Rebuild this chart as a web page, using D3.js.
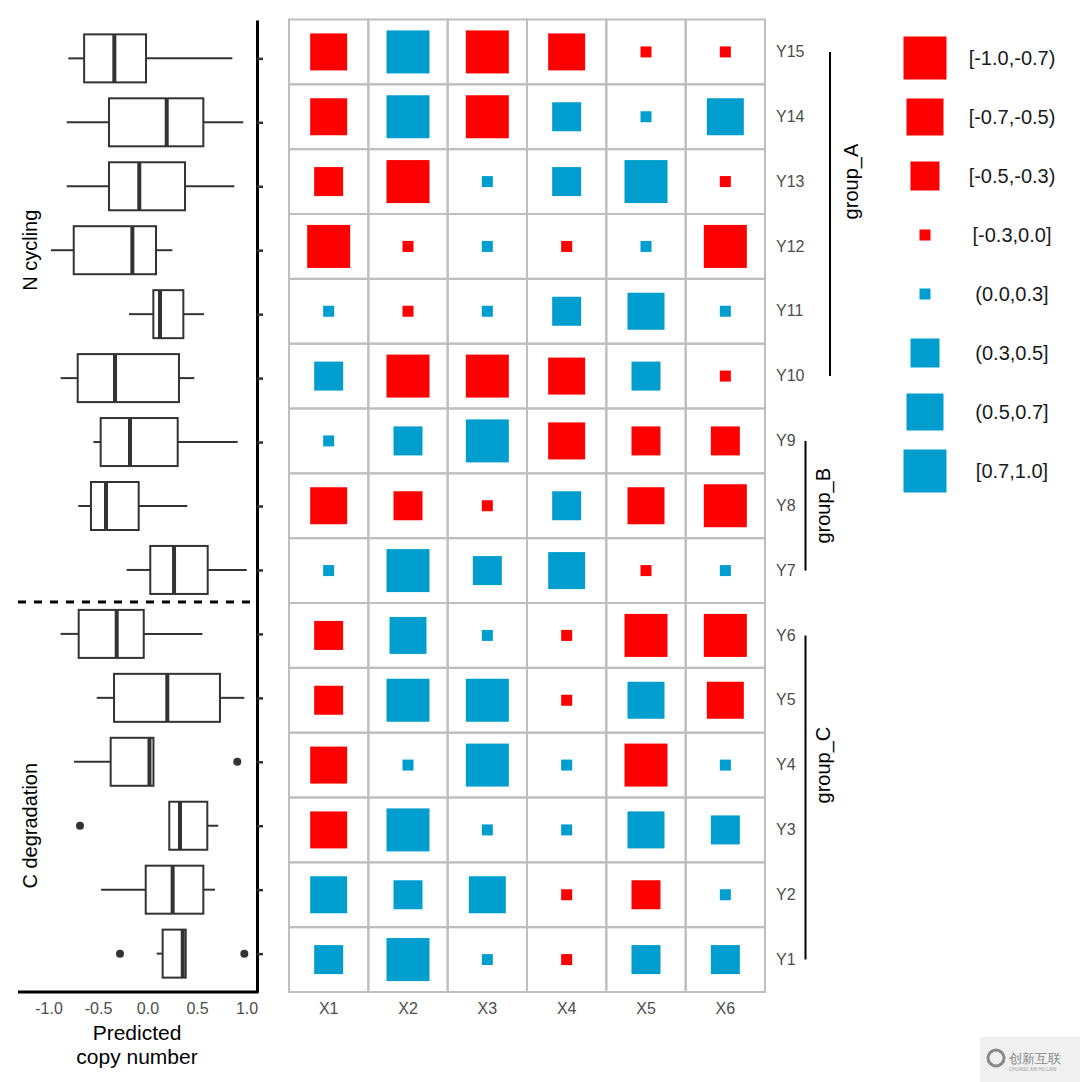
<!DOCTYPE html>
<html>
<head>
<meta charset="utf-8">
<script src="https://cdnjs.cloudflare.com/ajax/libs/d3/7.8.5/d3.min.js"></script>
<style>
body { margin: 0; background: #fff; }
text { font-family: "Liberation Sans", Arial, sans-serif; }
</style>
</head>
<body>
<div id="chart"></div>
<script>
// ---------- data ----------
var xCats = ["X1", "X2", "X3", "X4", "X5", "X6"];
var yCats = ["Y15", "Y14", "Y13", "Y12", "Y11", "Y10", "Y9", "Y8",
             "Y7", "Y6", "Y5", "Y4", "Y3", "Y2", "Y1"];

// correlation per row (X1..X6)
var corr = [
    [-0.62,  0.84, -0.88, -0.58, -0.12, -0.16],   // Y15
    [-0.60,  0.82, -0.86,  0.41,  0.14,  0.63],   // Y14
    [-0.38, -0.84,  0.12,  0.44,  0.81, -0.18],   // Y13
    [-0.79, -0.21,  0.17, -0.09,  0.11, -0.83],   // Y12
    [ 0.22, -0.15,  0.08,  0.38,  0.57,  0.19],   // Y11
    [ 0.35, -0.87, -0.81, -0.64,  0.42, -0.13],   // Y10
    [ 0.16,  0.46,  0.78, -0.56, -0.41, -0.36],   // Y9
    [-0.66, -0.44, -0.07,  0.33, -0.61, -0.92],   // Y8
    [ 0.24,  0.76,  0.39,  0.55, -0.24,  0.05],   // Y7
    [-0.42,  0.59,  0.13, -0.19, -0.85, -0.77],   // Y6
    [-0.31,  0.89,  0.73, -0.11,  0.62, -0.53],   // Y5
    [-0.58,  0.26,  0.80,  0.09, -0.74,  0.21],   // Y4
    [-0.67,  0.71,  0.18,  0.27,  0.52,  0.47],   // Y3
    [ 0.61,  0.36,  0.66, -0.26, -0.48,  0.14],   // Y2
    [ 0.43,  0.95,  0.03, -0.05,  0.31,  0.37]    // Y1
];

var binBreaks = [-0.7, -0.5, -0.3, 0, 0.3, 0.5, 0.7];
var binLabels = ["[-1.0,-0.7)", "[-0.7,-0.5)", "[-0.5,-0.3)", "[-0.3,0.0]",
                 "(0.0,0.3]", "(0.3,0.5]", "(0.5,0.7]", "[0.7,1.0]"];

// row groups on the right
var groupNames = ["group_A", "group_B", "group_C"];
var groupFirst = ["Y15", "Y9", "Y6"];
var groupLast  = ["Y10", "Y7", "Y1"];
var groupMid   = ["Y13", "Y8", "Y4"];

// boxplots, top to bottom
var boxRows    = yCats;
var whiskerLo  = [-0.80, -0.816, -0.816, -0.975, -0.187, -0.877, -0.547, -0.699, -0.21, -0.877, -0.513, -0.742, 0.22, -0.47, 0.093];
var boxQ1      = [-0.64, -0.389, -0.389, -0.745,  0.059, -0.705, -0.473, -0.571, 0.028, -0.695, -0.338, -0.372, 0.22, -0.018, 0.153];
var boxMedian  = [-0.335, 0.194, -0.083, -0.153,  0.126, -0.328, -0.177, -0.419, 0.268, -0.311,  0.20,  0.02, 0.328, 0.254, 0.356];
var boxQ3      = [-0.015, 0.564,  0.379,  0.086,  0.362,  0.318,  0.305, -0.089, 0.608, -0.038,  0.732,  0.06, 0.604, 0.564, 0.386];
var whiskerHi  = [ 0.857, 0.968,  0.877,  0.251,  0.571,  0.473,  0.911,  0.402, 1.002,  0.554,  0.978,  0.06, 0.715, 0.682, 0.386];
var outliers   = [[], [], [], [], [], [], [], [], [], [], [], [0.907], [-0.682], [], [-0.278, 0.978]];

var sectionNames = ["N cycling", "C degradation"];
var sectionMid   = ["Y12", "Y3"];
var sectionSplit = ["Y7", "Y6"];

var boxTicks = [-1, -0.5, 0, 0.5, 1];

// ---------- setup ----------
var svg = d3.select("#chart").append("svg")
    .attr("width", 1080).attr("height", 1082)
    .style("background", "#fff");

var bin = d3.scaleThreshold().domain(binBreaks).range(d3.range(8));
var sizeScale = d3.scaleOrdinal().domain(d3.range(8)).range([43, 37, 29, 11, 11, 29, 37, 43]);
var colour = d3.scaleOrdinal().domain(d3.range(8))
    .range(["#FF0000", "#FF0000", "#FF0000", "#FF0000", "#009ECE", "#009ECE", "#009ECE", "#009ECE"]);

// ---------- heatmap ----------
var hx = d3.scaleBand().domain(xCats).range([289, 765]);
var hy = d3.scaleBand().domain(yCats).range([19.5, 992]);

var cells = [];
yCats.forEach(function(r, i) {
    xCats.forEach(function(c, j) {
        cells.push({row: r, col: c, value: corr[i][j]});
    });
});

var heat = svg.append("g").attr("class", "heat");

heat.selectAll("rect.cell")
    .data(cells).enter().append("rect")
    .attr("class", "cell")
    .attr("x", function(d) { return hx(d.col); })
    .attr("y", function(d) { return hy(d.row); })
    .attr("width", hx.bandwidth())
    .attr("height", hy.bandwidth())
    .attr("fill", "none")
    .attr("stroke", "#bebebe")
    .attr("stroke-width", 2);

heat.selectAll("rect.sq")
    .data(cells).enter().append("rect")
    .attr("class", "sq")
    .attr("x", function(d) { return hx(d.col) + hx.bandwidth() / 2 - sizeScale(bin(d.value)) / 2; })
    .attr("y", function(d) { return hy(d.row) + hy.bandwidth() / 2 - sizeScale(bin(d.value)) / 2; })
    .attr("width", function(d) { return sizeScale(bin(d.value)); })
    .attr("height", function(d) { return sizeScale(bin(d.value)); })
    .attr("fill", function(d) { return colour(bin(d.value)); });

// axes
var hxAxis = svg.append("g")
    .attr("transform", "translate(0 992)")
    .call(d3.axisBottom(hx).tickSize(0).tickPadding(11));
var hyAxis = svg.append("g")
    .attr("transform", "translate(765 0)")
    .call(d3.axisRight(hy).tickSize(0).tickPadding(11));
[hxAxis, hyAxis].forEach(function(a) {
    a.select(".domain").remove();
    a.selectAll("text")
        .attr("font-size", "16px")
        .attr("font-family", "Liberation Sans, Arial, sans-serif")
        .style("fill", "#4d4d4d");
});

// groups
var groupLineX = [830, 805.5, 805.5];
var groupTextX = [857.5, 829.5, 829.5];
groupNames.forEach(function(g, i) {
    svg.append("line")
        .attr("x1", groupLineX[i]).attr("x2", groupLineX[i])
        .attr("y1", hy(groupFirst[i]) + hy.bandwidth() / 2)
        .attr("y2", hy(groupLast[i]) + hy.bandwidth() / 2)
        .attr("stroke", "#000").attr("stroke-width", 2);
    var cy = hy(groupMid[i]) + hy.bandwidth() / 2;
    svg.append("text")
        .attr("transform", "translate(" + groupTextX[i] + " " + cy + ") rotate(-90)")
        .attr("text-anchor", "middle")
        .attr("font-size", "20px")
        .style("fill", "#000")
        .text(g);
});

// legend
var legend = svg.append("g").attr("class", "legend");
var legendItem = legend.selectAll("g")
    .data(binLabels).enter().append("g")
    .attr("transform", function(d, i) { return "translate(925 " + (58 + i * 59) + ")"; });
legendItem.append("rect")
    .attr("x", function(d, i) { return -sizeScale(i) / 2; })
    .attr("y", function(d, i) { return -sizeScale(i) / 2; })
    .attr("width", function(d, i) { return sizeScale(i); })
    .attr("height", function(d, i) { return sizeScale(i); })
    .attr("fill", function(d, i) { return colour(i); });
legendItem.append("text")
    .attr("x", 87).attr("y", 0).attr("dy", "0.36em")
    .attr("text-anchor", "middle")
    .attr("font-size", "20px")
    .style("fill", "#1a1a1a")
    .text(function(d) { return d; });

// ---------- boxplots ----------
var bx = d3.scaleLinear().domain([-1.308, 1.106]).range([18, 257]);
var by = d3.scalePoint().domain(boxRows).range([20, 992]).padding(0.6);
var half = 24;

var boxes = svg.append("g").attr("class", "boxes");
var bg = boxes.selectAll("g")
    .data(boxRows).enter().append("g")
    .attr("transform", function(d) { return "translate(0 " + by(d) + ")"; });

bg.append("line")
    .attr("x1", function(d, i) { return bx(whiskerLo[i]); })
    .attr("x2", function(d, i) { return bx(boxQ1[i]); })
    .attr("stroke", "#333").attr("stroke-width", 2);
bg.append("line")
    .attr("x1", function(d, i) { return bx(boxQ3[i]); })
    .attr("x2", function(d, i) { return bx(whiskerHi[i]); })
    .attr("stroke", "#333").attr("stroke-width", 2);
bg.append("rect")
    .attr("x", function(d, i) { return bx(boxQ1[i]); })
    .attr("y", -half)
    .attr("width", function(d, i) { return bx(boxQ3[i]) - bx(boxQ1[i]); })
    .attr("height", half * 2)
    .attr("fill", "#fff")
    .attr("stroke", "#333").attr("stroke-width", 2);
bg.append("line")
    .attr("x1", function(d, i) { return bx(boxMedian[i]); })
    .attr("x2", function(d, i) { return bx(boxMedian[i]); })
    .attr("y1", -half).attr("y2", half)
    .attr("stroke", "#333").attr("stroke-width", 4);
bg.selectAll("circle")
    .data(function(d, i) { return outliers[i]; })
    .enter().append("circle")
    .attr("cx", function(v) { return bx(v); })
    .attr("r", 4)
    .attr("fill", "#333");

// section split (dashed)
var splitY = (by(sectionSplit[0]) + by(sectionSplit[1])) / 2;
svg.append("line")
    .attr("x1", 18).attr("x2", 257)
    .attr("y1", splitY).attr("y2", splitY)
    .attr("stroke", "#000").attr("stroke-width", 3)
    .attr("stroke-dasharray", "8,8");

// box axes
var byAxis = svg.append("g")
    .attr("transform", "translate(257 0)")
    .call(d3.axisRight(by).tickSize(6).tickSizeOuter(0).tickFormat(""));
byAxis.select(".domain").attr("stroke", "#000").attr("stroke-width", 3);
byAxis.selectAll(".tick line").attr("stroke", "#333").attr("stroke-width", 2.5);

var bxAxis = svg.append("g")
    .attr("transform", "translate(0 992)")
    .call(d3.axisBottom(bx).tickValues(boxTicks).tickSize(0).tickPadding(10.5)
        .tickFormat(function(d) { return d.toFixed(1); }));
bxAxis.select(".domain").remove();
bxAxis.selectAll("text")
    .attr("font-size", "16px")
    .attr("font-family", "Liberation Sans, Arial, sans-serif")
    .style("fill", "#4d4d4d");
svg.append("line")
    .attr("x1", 18).attr("x2", 258.5)
    .attr("y1", 992).attr("y2", 992)
    .attr("stroke", "#000").attr("stroke-width", 3);

// axis title
svg.append("text")
    .attr("x", 137).attr("y", 1040)
    .attr("text-anchor", "middle")
    .attr("font-size", "21px")
    .style("fill", "#000")
    .text("Predicted");
svg.append("text")
    .attr("x", 137).attr("y", 1064)
    .attr("text-anchor", "middle")
    .attr("font-size", "21px")
    .style("fill", "#000")
    .text("copy number");

// section labels
sectionNames.forEach(function(s, i) {
    svg.append("text")
        .attr("transform", "translate(36.5 " + by(sectionMid[i]) + ") rotate(-90)")
        .attr("text-anchor", "middle")
        .attr("font-size", "20px")
        .style("fill", "#000")
        .text(s);
});

// watermark
var wm = svg.append("g").attr("transform", "translate(980 1037)");
wm.append("rect").attr("width", 100).attr("height", 45).attr("fill", "#f0f0f0");
wm.append("circle").attr("cx", 16).attr("cy", 21).attr("r", 8)
    .attr("fill", "none").attr("stroke", "#8a8a8a").attr("stroke-width", 3);
wm.append("text")
    .attr("x", 29).attr("y", 26)
    .attr("font-family", "Noto Sans CJK SC")
    .attr("font-size", "13px")
    .style("fill", "#8a8a8a")
    .text("创新互联");
wm.append("text")
    .attr("x", 29).attr("y", 34)
    .attr("font-size", "4.5px")
    .style("fill", "#9a9a9a")
    .text("CHUANG XIN HU LIAN");
</script>
</body>
</html>
